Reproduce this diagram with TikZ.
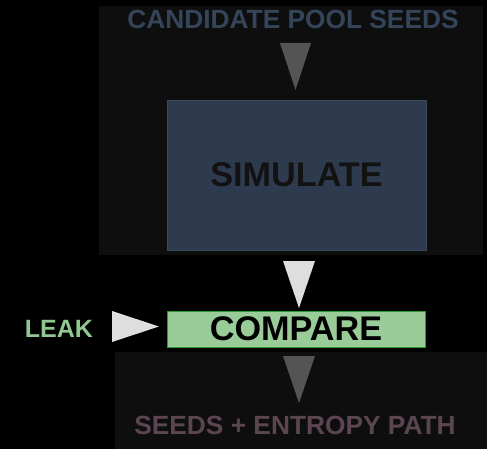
\documentclass[tikz,border=0pt]{standalone}
\usepackage{fontspec}
\setmainfont{Liberation Sans}
\usepackage{xcolor}
\usetikzlibrary{positioning}

\definecolor{panelbg}{HTML}{0E0E0E}
\definecolor{simfill}{HTML}{2E3B4E}
\definecolor{simedge}{HTML}{3A4A5E}
\definecolor{seedtext}{HTML}{34455A}
\definecolor{pathtext}{HTML}{5A4550}
\definecolor{cmpfill}{HTML}{99CC99}
\definecolor{cmpedge}{HTML}{2E9A2E}
\definecolor{leaktext}{HTML}{90C890}

\begin{document}
\begin{tikzpicture}[
    x=1pt, y=-1pt,
    panel/.style={fill=panelbg},
    label/.style={inner sep=0pt, font=\bfseries\fontsize{26.3}{26}\selectfont},
    simbox/.style={draw=simedge, fill=simfill, inner sep=0pt, line width=0.8pt,
      minimum width=259pt, minimum height=150pt, text=black!93,
      font=\bfseries\fontsize{34.2}{34}\selectfont},
    cmpbox/.style={draw=cmpedge, fill=cmpfill, inner sep=0pt, line width=1pt,
      minimum width=258pt, minimum height=36pt, text=black,
      font=\bfseries\fontsize{34.2}{34}\selectfont},
    darktri/.style={fill=black!67},
    lighttri/.style={fill=black!13}
  ]
    \fill[black] (0,0) rectangle (487,449);
    \useasboundingbox (0,0) rectangle (487,449);
    % panels
    \fill[panel] (99,6) rectangle (483,255);
    \fill[panel] (115,352) rectangle (487,449);
    % nodes
    \node[label, text=seedtext] (pool) at (293,19) {CANDIDATE POOL SEEDS};
    \node[simbox] (sim) at (296.5,175) {SIMULATE};
    \node[cmpbox] (cmp) at (296,329) {COMPARE};
    \node[label, text=leaktext, font=\bfseries\fontsize{25}{25}\selectfont] (leak) at (59,329) {LEAK};
    \node[label, text=pathtext] (path) at (295,425) {SEEDS + ENTROPY PATH};
    % arrows
    \fill[darktri] (280,43) -- (311,43) -- (295.5,90) -- cycle;
    \fill[lighttri] (283,261) -- (315,261) -- (299,308) -- cycle;
    \fill[darktri] (283,356) -- (315,356) -- (299,403) -- cycle;
    \fill[lighttri] (112,311) -- (112,342) -- (159,326.5) -- cycle;
\end{tikzpicture}
\end{document}
